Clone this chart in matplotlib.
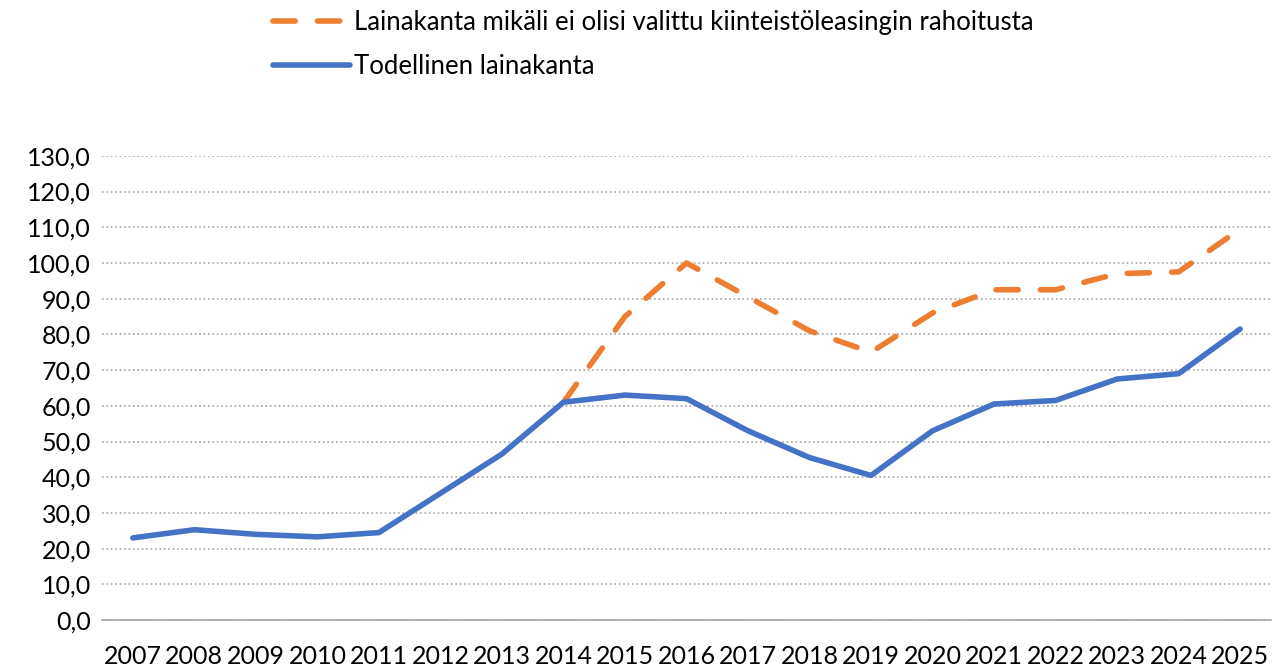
import matplotlib.pyplot as plt
from matplotlib.ticker import FuncFormatter

vuodet = [str(v) for v in range(2007, 2026)]
todellinen = [23.0, 25.3, 24.0, 23.3, 24.5, 35.5, 46.5, 61.0, 63.0, 62.0,
              53.0, 45.5, 40.5, 53.0, 60.5, 61.5, 67.5, 69.0, 81.5]
# ilman leasingia, alkaa 2014
ilman_vuodet = vuodet[7:]
ilman_leasingia = [61.0, 85.0, 100.0, 90.5, 81.0, 75.0, 86.0, 92.5, 92.5,
                   97.0, 97.5, 109.5]

plt.rcParams['font.family'] = ['Lato', 'DejaVu Sans']

fig = plt.figure(figsize=(12.76, 6.66), dpi=100)
ax = fig.add_axes([0.08, 0.069, 0.916, 0.697])

x_all = list(range(len(vuodet)))
x_ilman = [vuodet.index(v) for v in ilman_vuodet]

l1, = ax.plot(x_ilman, ilman_leasingia, color='#ED7D31', lw=4.0,
              dashes=(4, 4), dash_capstyle='round', solid_capstyle='round')
l2, = ax.plot(x_all, todellinen, color='#4472C4', lw=4.0,
              solid_capstyle='round')

ax.set_xlim(-0.5, len(vuodet) - 0.5)
ax.set_ylim(0, 130)
ax.set_yticks(range(0, 131, 10))
ax.yaxis.set_major_formatter(FuncFormatter(lambda v, p: f"{v:.1f}".replace('.', ',')))
ax.set_xticks(x_all)
ax.set_xticklabels(vuodet)

ax.grid(axis='y', color='#A6A6A6', linestyle=':', lw=1.2)
ax.set_axisbelow(True)
for s in ['top', 'right', 'left']:
    ax.spines[s].set_visible(False)
ax.spines['bottom'].set_color('#A6A6A6')
ax.spines['bottom'].set_linewidth(1.2)
ax.tick_params(axis='both', length=0, labelsize=18, colors='black')
ax.tick_params(axis='x', pad=18)
ax.tick_params(axis='y', pad=8)

fig.legend([l1, l2],
           ['Lainakanta mikäli ei olisi valittu kiinteistöleasingin rahoitusta',
            'Todellinen lainakanta'],
           loc='upper left', bbox_to_anchor=(0.196, 1.02), frameon=False,
           fontsize=18.5, handlelength=3.0, handletextpad=0.15, labelspacing=0.75)

fig.savefig('out.png', dpi=100)
